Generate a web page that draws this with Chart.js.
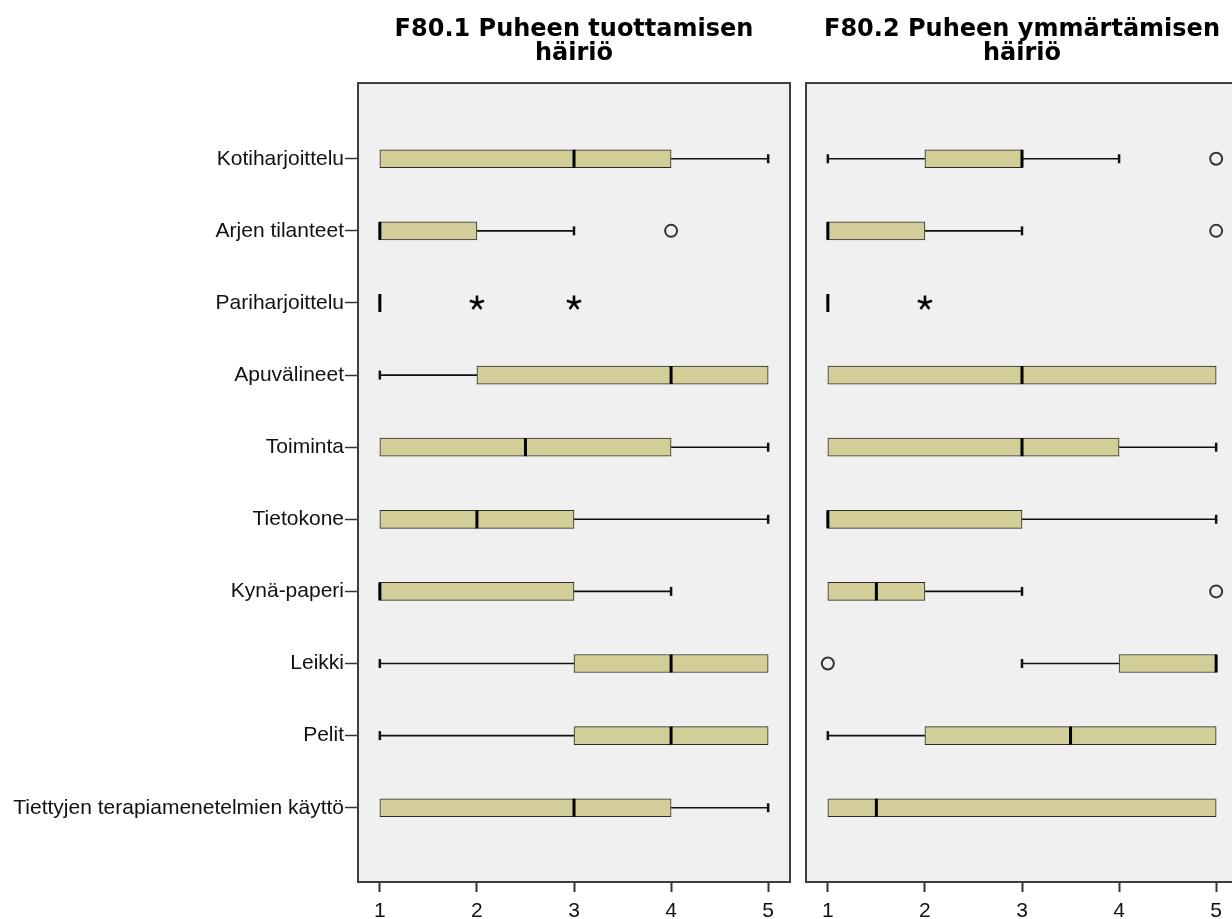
<!DOCTYPE html>
<html lang="fi">
<head>
<meta charset="utf-8">
<title>F80.1 / F80.2 – menetelmien käyttö</title>
<script src="https://cdn.jsdelivr.net/npm/chart.js@4.4.1/dist/chart.umd.min.js"></script>
<style>
  html, body { margin: 0; padding: 0; background: #ffffff; }
  body { position: relative; width: 1232px; height: 919px; overflow: hidden; }
  canvas { position: absolute; top: 0; }
  #left { left: 0; }
  #right { left: 800px; }
</style>
</head>
<body>
<canvas id="left" width="800" height="919"></canvas>
<canvas id="right" width="448" height="919"></canvas>
<script>
// Categories (top to bottom) and x-axis tick values
const categories = [
  'Kotiharjoittelu',
  'Arjen tilanteet',
  'Pariharjoittelu',
  'Apuvälineet',
  'Toiminta',
  'Tietokone',
  'Kynä-paperi',
  'Leikki',
  'Pelit',
  'Tiettyjen terapiamenetelmien käyttö'
];
const xTickValues = [1, 2, 3, 4, 5];

// F80.1 Puheen tuottamisen häiriö – five-number summaries per category
const f801Title = ['F80.1 Puheen tuottamisen', 'häiriö'];
const f801Min    = [1, 1, 1, 1, 1,   1, 1, 1, 1, 1];
const f801Q1     = [1, 1, 1, 2, 1,   1, 1, 3, 3, 1];
const f801Median = [3, 1, 1, 4, 2.5, 2, 1, 4, 4, 3];
const f801Q3     = [4, 2, 1, 5, 4,   3, 3, 5, 5, 4];
const f801Max    = [5, 3, 1, 5, 5,   5, 4, 5, 5, 5];
// [category index, value]
const f801Outliers = [[1, 4]];
const f801Extremes = [[2, 2], [2, 3]];

// F80.2 Puheen ymmärtämisen häiriö
const f802Title = ['F80.2 Puheen ymmärtämisen', 'häiriö'];
const f802Min    = [1, 1, 1, 1, 1, 1, 1,   3, 1,   1];
const f802Q1     = [2, 1, 1, 1, 1, 1, 1,   4, 2,   1];
const f802Median = [3, 1, 1, 3, 3, 1, 1.5, 5, 3.5, 1.5];
const f802Q3     = [3, 2, 1, 5, 4, 3, 2,   5, 5,   5];
const f802Max    = [4, 3, 1, 5, 5, 5, 3,   5, 5,   5];
const f802Outliers = [[0, 5], [1, 5], [6, 5], [7, 1]];
const f802Extremes = [[2, 2]];

const BOX_FILL = '#d3ce97';
const BOX_EDGE = '#2b2b2b';
const PANEL_BG = '#f0f0f0';
const PANEL_EDGE = '#3d3d3d';
const TEXT = '#111111';

// Five-armed asterisk marker used for extreme values
function asteriskGlyph() {
  const c = document.createElement('canvas');
  c.width = 18; c.height = 18;
  const g = c.getContext('2d');
  g.strokeStyle = '#000';
  g.lineWidth = 2.6;
  for (let k = 0; k < 5; k++) {
    const a = -Math.PI / 2 + k * 2 * Math.PI / 5;
    g.beginPath();
    g.moveTo(9, 9);
    g.lineTo(9 + 7.5 * Math.cos(a), 9 + 7.5 * Math.sin(a));
    g.stroke();
  }
  return c;
}
const asterisk = asteriskGlyph();

// Panel background and frame around the plot area
const panelFrame = {
  id: 'panelFrame',
  beforeDraw(chart) {
    const { ctx, chartArea: a } = chart;
    ctx.save();
    ctx.fillStyle = PANEL_BG;
    ctx.fillRect(a.left, a.top, a.right - a.left, a.bottom - a.top);
    ctx.restore();
  },
  afterDraw(chart) {
    const { ctx, chartArea: a } = chart;
    ctx.save();
    ctx.strokeStyle = PANEL_EDGE;
    ctx.lineWidth = 2;
    ctx.strokeRect(a.left, a.top, a.right - a.left, a.bottom - a.top);
    ctx.restore();
  }
};

// Whiskers with end caps, placed through the chart's own scales
function whiskerPlugin(stats) {
  return {
    id: 'whiskers',
    beforeDatasetsDraw(chart) {
      const { ctx, scales: { x, y } } = chart;
      ctx.save();
      ctx.strokeStyle = '#111';
      stats.min.forEach((lo, i) => {
        const yc = y.getPixelForValue(i);
        const segs = [];
        if (lo < stats.q1[i]) segs.push([lo, stats.q1[i], lo]);
        if (stats.max[i] > stats.q3[i]) segs.push([stats.q3[i], stats.max[i], stats.max[i]]);
        segs.forEach(([a, b, capAt]) => {
          ctx.lineWidth = 1.6;
          ctx.beginPath();
          ctx.moveTo(x.getPixelForValue(a), yc);
          ctx.lineTo(x.getPixelForValue(b), yc);
          ctx.stroke();
          const cx = x.getPixelForValue(capAt);
          ctx.lineWidth = 2.5;
          ctx.beginPath();
          ctx.moveTo(cx, yc - 4.5);
          ctx.lineTo(cx, yc + 4.5);
          ctx.stroke();
        });
      });
      ctx.restore();
    }
  };
}

function makePanel(canvasId, title, stats, outliers, extremes, showCategories) {
  const font = { family: '"Liberation Sans", Arial, sans-serif', size: 21 };
  return new Chart(document.getElementById(canvasId), {
    type: 'bar',
    data: {
      datasets: [
        {
          type: 'bar',
          indexAxis: 'y',
          data: categories.map((_, i) => ({ y: i, x: [stats.q1[i], stats.q3[i]] })),
          backgroundColor: BOX_FILL,
          borderColor: BOX_EDGE,
          borderWidth: 1,
          borderSkipped: false,
          barThickness: 18,
          order: 3
        },
        {
          type: 'scatter',
          data: categories.map((_, i) => ({ x: stats.median[i], y: i })),
          pointStyle: 'line',
          rotation: 90,
          radius: 9,
          borderWidth: 3,
          borderColor: '#000',
          order: 2
        },
        {
          type: 'scatter',
          data: outliers.map(([i, v]) => ({ x: v, y: i })),
          pointStyle: 'circle',
          radius: 6,
          borderWidth: 2,
          borderColor: '#333',
          backgroundColor: 'rgba(0,0,0,0)',
          order: 1
        },
        {
          type: 'scatter',
          data: extremes.map(([i, v]) => ({ x: v, y: i })),
          pointStyle: asterisk,
          order: 0
        }
      ]
    },
    options: {
      responsive: false,
      animation: false,
      events: [],
      devicePixelRatio: 1,
      layout: { autoPadding: false, padding: { left: showCategories ? 0 : 6, right: 10, top: 0, bottom: 0 } },
      plugins: {
        legend: { display: false },
        tooltip: { enabled: false },
        title: {
          display: true,
          text: title,
          fullSize: false,
          color: '#000',
          font: { family: '"DejaVu Sans", Verdana, sans-serif', size: 24, weight: 'bold', lineHeight: 0.98 },
          padding: { top: 18, bottom: 18 }
        }
      },
      scales: {
        x: {
          type: 'linear',
          position: 'bottom',
          offset: false,
          min: 0.775,
          max: 5.225,
          afterBuildTicks: (s) => { s.ticks = xTickValues.map((v) => ({ value: v })); },
          afterFit: (s) => { s.height = 37; s.paddingLeft = 0; s.paddingRight = 0; },
          border: { display: false },
          grid: { offset: false, drawOnChartArea: false, drawTicks: true, tickLength: 10, tickWidth: 2, tickColor: '#333' },
          ticks: { font, color: TEXT, padding: 7, maxRotation: 0, autoSkip: false }
        },
        y: {
          type: 'linear',
          display: showCategories,
          offset: false,
          reverse: true,
          min: -1.05,
          max: 10.03,
          afterBuildTicks: (s) => { s.ticks = categories.map((_, i) => ({ value: i })); },
          afterFit: (s) => { s.width = showCategories ? 358 : 0; s.paddingTop = 0; s.paddingBottom = 0; },
          border: { display: false },
          grid: { offset: false, drawOnChartArea: false, drawTicks: true, tickLength: 13, tickWidth: 1.5, tickColor: '#333' },
          ticks: { font, color: TEXT, padding: 1, autoSkip: false, callback: (v) => categories[v] }
        }
      }
    },
    plugins: [panelFrame, whiskerPlugin(stats)]
  });
}

makePanel('left', f801Title,
  { min: f801Min, q1: f801Q1, median: f801Median, q3: f801Q3, max: f801Max },
  f801Outliers, f801Extremes, true);

makePanel('right', f802Title,
  { min: f802Min, q1: f802Q1, median: f802Median, q3: f802Q3, max: f802Max },
  f802Outliers, f802Extremes, false);
</script>
</body>
</html>
